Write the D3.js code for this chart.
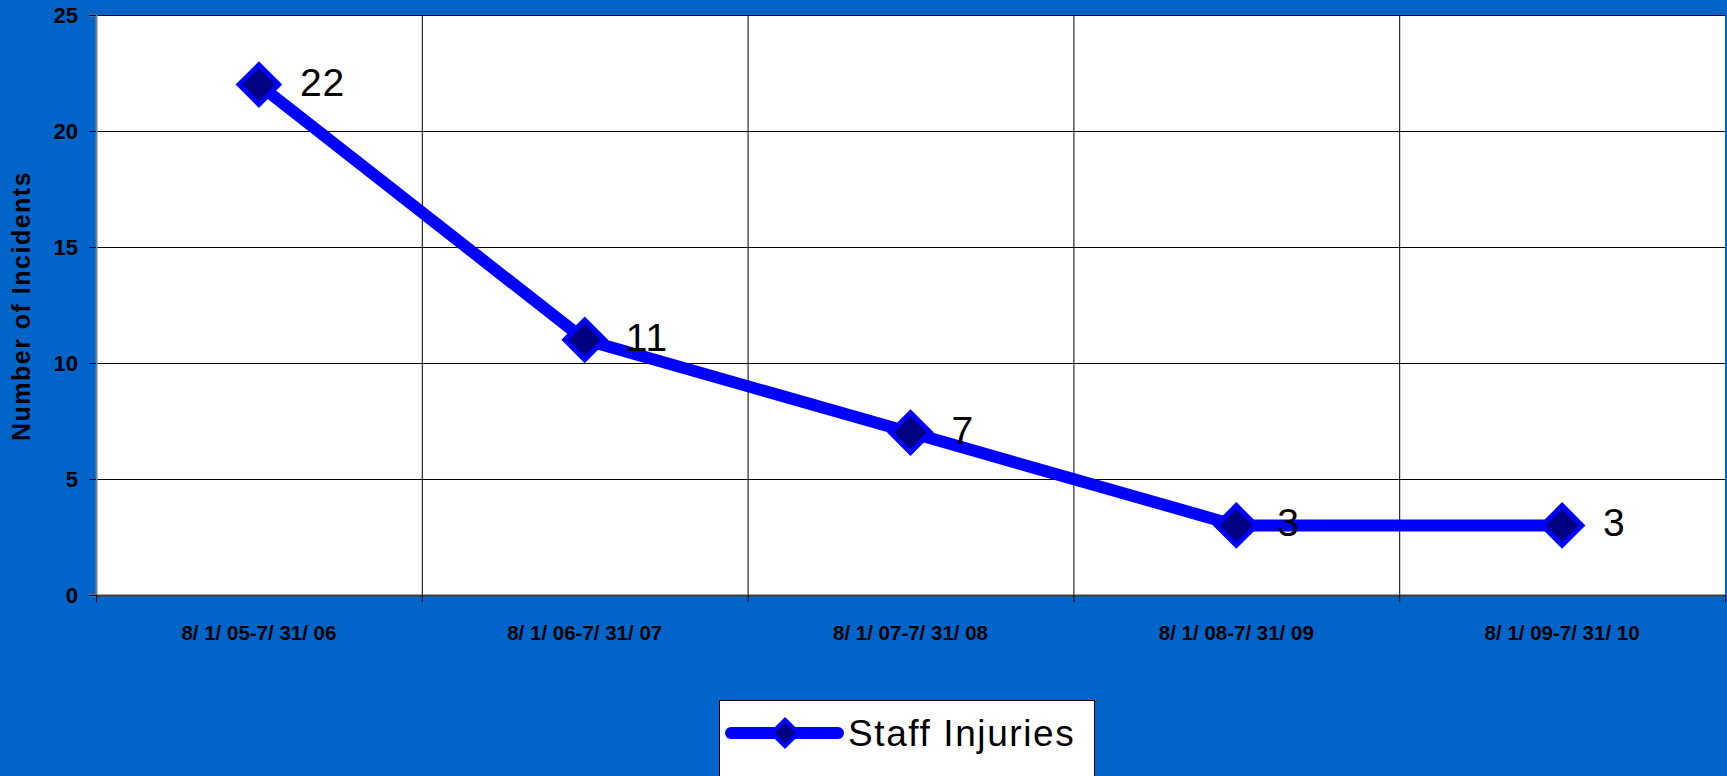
<!DOCTYPE html>
<html>
<head>
<meta charset="utf-8">
<script src="https://cdn.jsdelivr.net/npm/d3@7"></script>
<style>
  html, body { margin: 0; padding: 0; background: #0064c8; }
  svg { display: block; }
  text { font-family: Arial, "Liberation Sans", sans-serif; }
</style>
</head>
<body>
<script>
// data
var periods = ["8/ 1/ 05-7/ 31/ 06", "8/ 1/ 06-7/ 31/ 07", "8/ 1/ 07-7/ 31/ 08", "8/ 1/ 08-7/ 31/ 09", "8/ 1/ 09-7/ 31/ 10"];
var injuries = [22, 11, 7, 3, 3];
var yTicks = [0, 5, 10, 15, 20, 25];
var seriesName = "Staff Injuries";
var yTitle = "Number of Incidents";

var W = 1727, H = 776;
var plot = { left: 96, right: 1725, top: 15, bottom: 595 };

var svg = d3.select("body").append("svg")
    .attr("width", W)
    .attr("height", H);

svg.append("rect")
    .attr("width", W).attr("height", H)
    .attr("fill", "#0064c8");

// scales
var x = d3.scaleBand()
    .domain(periods)
    .range([plot.left, plot.right])
    .padding(0);
var y = d3.scaleLinear()
    .domain([0, 25])
    .range([plot.bottom, plot.top]);

// plot area
svg.append("rect")
    .attr("x", plot.left).attr("y", plot.top)
    .attr("width", plot.right - plot.left)
    .attr("height", plot.bottom - plot.top)
    .attr("fill", "#ffffff");

// horizontal grid
svg.append("g")
    .selectAll("line")
    .data(yTicks.filter(function(d) { return d > 0; }))
    .enter().append("line")
    .attr("x1", plot.left).attr("x2", plot.right)
    .attr("y1", function(d) { return y(d) + 0.5; })
    .attr("y2", function(d) { return y(d) + 0.5; })
    .attr("stroke", "#000").attr("stroke-width", 1);

// vertical grid at band edges
svg.append("g")
    .selectAll("line")
    .data(periods.slice(1))
    .enter().append("line")
    .attr("x1", function(d) { return x(d) + 0.5; })
    .attr("x2", function(d) { return x(d) + 0.5; })
    .attr("y1", plot.top).attr("y2", plot.bottom)
    .attr("stroke", "#000").attr("stroke-width", 1);

// y axis
var yAxis = d3.axisLeft(y)
    .tickValues(yTicks)
    .tickSize(7)
    .tickPadding(11);
var gy = svg.append("g")
    .attr("transform", "translate(" + plot.left + ",0)")
    .call(yAxis);
gy.select(".domain").attr("stroke", "#808080").attr("stroke-width", 2);
gy.selectAll(".tick line").attr("stroke", "#000");
gy.selectAll(".tick text")
    .attr("fill", "#000")
    .style("font-size", "22px")
    .style("font-weight", "bold")
    .style("font-family", "Arial, 'Liberation Sans', sans-serif");

// x axis
var xAxis = d3.axisBottom(x)
    .tickSize(0)
    .tickPadding(30);
var gx = svg.append("g")
    .attr("transform", "translate(0," + plot.bottom + ")")
    .call(xAxis);
gx.select(".domain").attr("stroke", "#404040").attr("stroke-width", 2);
gx.selectAll(".tick text")
    .attr("fill", "#000")
    .style("font-size", "20.5px")
    .style("font-weight", "bold")
    .style("font-family", "Arial, 'Liberation Sans', sans-serif");

// small ticks at band edges below the axis
svg.append("g")
    .selectAll("line")
    .data(periods.map(function(d) { return x(d); }).concat([plot.right]))
    .enter().append("line")
    .attr("x1", function(d) { return d + 0.5; })
    .attr("x2", function(d) { return d + 0.5; })
    .attr("y1", plot.bottom).attr("y2", plot.bottom + 7)
    .attr("stroke", "#000");

// y axis title
svg.append("text")
    .attr("transform", "translate(30,306) rotate(-90)")
    .attr("text-anchor", "middle")
    .attr("fill", "#000")
    .style("font-size", "25px")
    .style("font-weight", "bold")
    .style("letter-spacing", "1.5px")
    .text(yTitle);

// series line
var cx = function(d, i) { return x(periods[i]) + x.bandwidth() / 2; };
var line = d3.line()
    .x(cx)
    .y(function(d) { return y(d); });

svg.append("path")
    .datum(injuries)
    .attr("d", line)
    .attr("fill", "none")
    .attr("stroke", "#0000ff")
    .attr("stroke-width", 12)
    .attr("stroke-linejoin", "round");

var diamond = d3.symbol().type(d3.symbolDiamond2).size(1000);

svg.append("g")
    .selectAll("path")
    .data(injuries)
    .enter().append("path")
    .attr("d", diamond)
    .attr("transform", function(d, i) { return "translate(" + cx(d, i) + "," + y(d) + ")"; })
    .attr("fill", "#000080")
    .attr("stroke", "#0000ff")
    .attr("stroke-width", 5);

// data labels
svg.append("g")
    .selectAll("text")
    .data(injuries)
    .enter().append("text")
    .attr("x", function(d, i) { return cx(d, i) + 41; })
    .attr("y", function(d) { return y(d) + 11; })
    .attr("fill", "#000")
    .style("font-size", "39px")
    .style("letter-spacing", "1px")
    .text(function(d) { return d; });

// legend
var lg = svg.append("g").attr("transform", "translate(719,700)");
lg.append("rect")
    .attr("x", 0.5).attr("y", 0.5)
    .attr("width", 375).attr("height", 90)
    .attr("fill", "#fff")
    .attr("stroke", "#000");
lg.append("line")
    .attr("x1", 12).attr("x2", 119)
    .attr("y1", 33).attr("y2", 33)
    .attr("stroke", "#0000ff")
    .attr("stroke-width", 12)
    .attr("stroke-linecap", "round");
lg.append("path")
    .attr("d", d3.symbol().type(d3.symbolDiamond2).size(450))
    .attr("transform", "translate(66,33)")
    .attr("fill", "#000080")
    .attr("stroke", "#0000ff")
    .attr("stroke-width", 4);
lg.append("text")
    .attr("x", 129).attr("y", 46)
    .attr("fill", "#000")
    .style("font-size", "37px")
    .style("letter-spacing", "1.6px")
    .text(seriesName);
</script>
</body>
</html>
